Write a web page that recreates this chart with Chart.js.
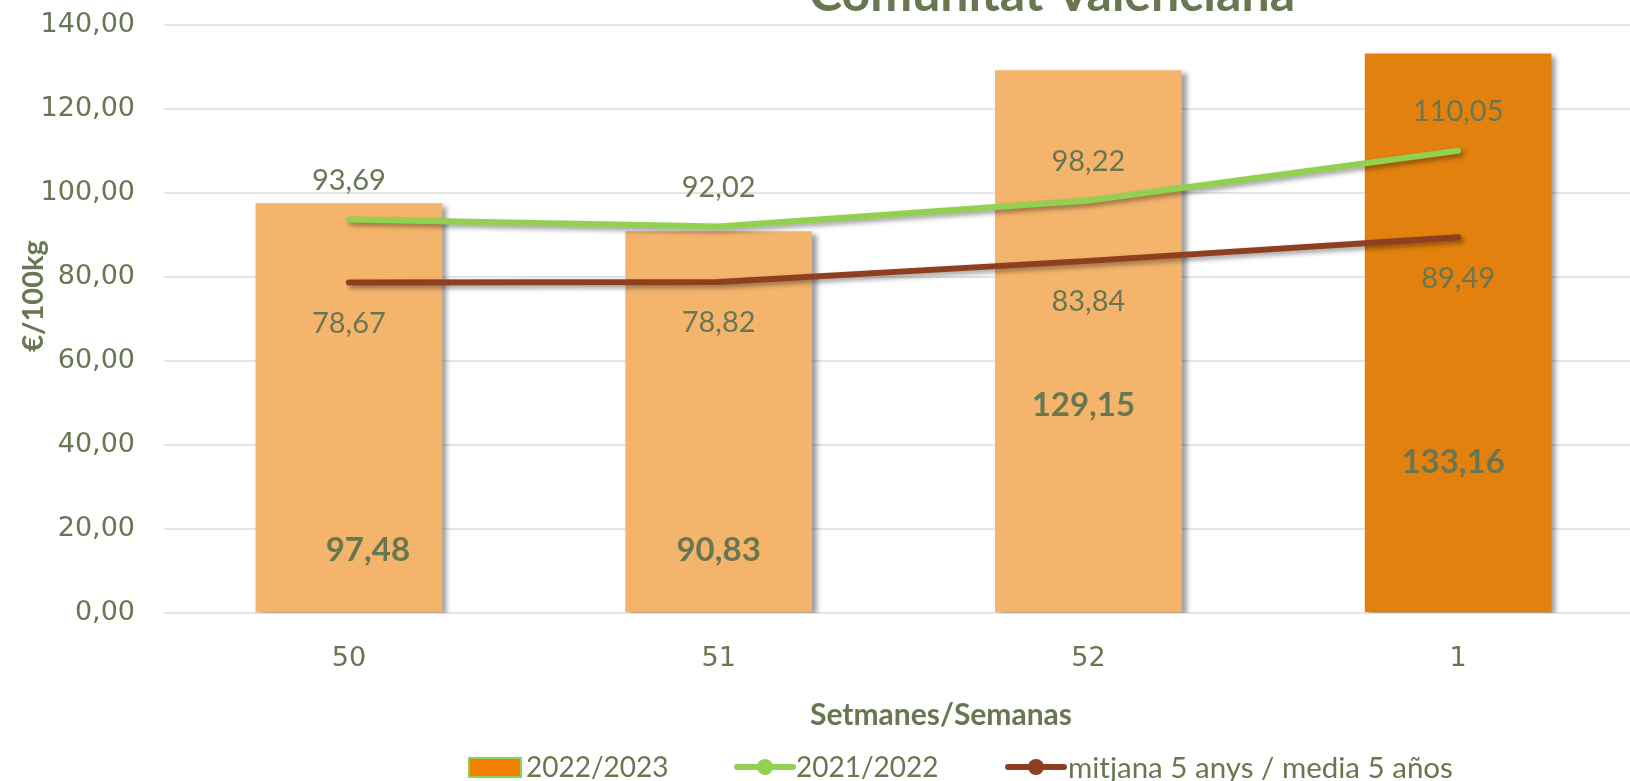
<!DOCTYPE html>
<html>
<head>
<meta charset="utf-8">
<script src="https://cdn.jsdelivr.net/npm/chart.js@4.4.1/dist/chart.umd.min.js"></script>
<style>
  html, body { margin: 0; padding: 0; background: #fff; overflow: hidden; }
  #wrap { width: 1630px; height: 781px; overflow: hidden; position: relative; }
  canvas { display: block; }
</style>
</head>
<body>
<div id="wrap"><canvas id="chart" width="1645" height="781"></canvas></div>
<script>
// --- datos ---
const weeks = ['50', '51', '52', '1'];
const season2223 = [97.48, 90.83, 129.15, 133.16];
const season2122 = [93.69, 92.02, 98.22, 110.05];
const media5 = [78.67, 78.82, 83.84, 89.49];
const yMin = 0, yMax = 140, yStep = 20;

const seriesNames = ['2022/2023', '2021/2022', 'mitjana 5 anys / media 5 años'];

// --- colores ---
const TXT = '#687751';
const BAR_LIGHT = '#F4B46C';
const BAR_DARK = '#E3810F';
const GREEN = '#92D050';
const BROWN = '#8E3F20';

const fmt = v => v.toFixed(2).replace('.', ',');

// sombra de las series (como en Excel)
const shadowPlugin = {
  id: 'shadow',
  beforeDatasetDraw(chart, args) {
    const ctx = chart.ctx;
    ctx.save();
    ctx.shadowColor = 'rgba(0,0,0,0.38)';
    ctx.shadowBlur = 5;
    ctx.shadowOffsetX = args.meta.type === 'bar' ? 5 : 3;
    ctx.shadowOffsetY = 3;
  },
  afterDatasetDraw(chart) { chart.ctx.restore(); }
};

// etiquetas de valores, titulo y leyenda
const labelsPlugin = {
  id: 'valueLabels',
  afterDatasetsDraw(chart) {
    const ctx = chart.ctx;
    const y = chart.scales.y;
    ctx.save();
    ctx.fillStyle = TXT;
    ctx.textAlign = 'center';
    ctx.textBaseline = 'middle';

    // 2021/2022 encima, media debajo
    ctx.font = '29px Lato';
    chart.getDatasetMeta(1).data.forEach((p, i) => ctx.fillText(fmt(season2122[i]), p.x, p.y - 39));
    chart.getDatasetMeta(2).data.forEach((p, i) => ctx.fillText(fmt(media5[i]), p.x, p.y + 41));

    // etiquetas de barras (colocadas a mano en el original)
    const spots = [[19, 14.8], [0, 14.8], [-5, 49.4], [-5, 35.8]];
    ctx.font = 'bold 33px Lato';
    chart.getDatasetMeta(0).data.forEach((b, i) => {
      ctx.fillText(fmt(season2223[i]), b.x + spots[i][0], y.getPixelForValue(spots[i][1]));
    });
    ctx.restore();
  },
  afterDraw(chart) {
    const ctx = chart.ctx;
    ctx.save();
    ctx.fillStyle = TXT;
    ctx.textAlign = 'center';

    // titulo (cortado arriba)
    ctx.font = 'bold 50px Lato';
    ctx.textBaseline = 'alphabetic';
    ctx.fillText('Comunitat Valenciana', 1052, 11);

    // titulos de ejes
    ctx.textBaseline = 'middle';
    ctx.font = 'bold 30px Lato';
    ctx.fillText('Setmanes/Semanas', 941, 715);
    ctx.save();
    ctx.translate(34, 296);
    ctx.rotate(-Math.PI / 2);
    ctx.font = 'bold 29px Lato';
    ctx.fillText('€/100kg', 0, 0);
    ctx.restore();

    // leyenda
    ctx.textAlign = 'left';
    const ly = 767;
    ctx.fillStyle = '#F08000';
    ctx.fillRect(469, 758, 52, 19);
    ctx.strokeStyle = GREEN;
    ctx.lineWidth = 2;
    ctx.strokeRect(469, 758, 52, 19);
    ctx.font = '28px Lato';
    ctx.fillStyle = TXT;
    ctx.fillText(seriesNames[0], 526, ly + 1);

    const lineKey = (x0, col) => {
      ctx.strokeStyle = col;
      ctx.lineWidth = 6;
      ctx.lineCap = 'round';
      ctx.beginPath(); ctx.moveTo(x0, ly); ctx.lineTo(x0 + 56, ly); ctx.stroke();
      ctx.fillStyle = col;
      ctx.beginPath(); ctx.arc(x0 + 28, ly, 8, 0, Math.PI * 2); ctx.fill();
    };
    lineKey(737, GREEN);
    ctx.fillStyle = TXT;
    ctx.fillText(seriesNames[1], 796, ly + 1);
    lineKey(1008, BROWN);
    ctx.fillStyle = TXT;
    ctx.font = '29.5px Lato';
    ctx.fillText(seriesNames[2], 1068, ly + 1);
    ctx.restore();
  }
};

new Chart(document.getElementById('chart'), {
  data: {
    labels: weeks,
    datasets: [
      {
        type: 'bar',
        label: seriesNames[0],
        data: season2223,
        backgroundColor: season2223.map((v, i) => i === season2223.length - 1 ? BAR_DARK : BAR_LIGHT),
        barThickness: 186,
        order: 2
      },
      {
        type: 'line',
        label: seriesNames[1],
        data: season2122,
        borderColor: GREEN,
        borderWidth: 6,
        pointRadius: 0,
        borderCapStyle: 'round',
        borderJoinStyle: 'round',
        order: 1
      },
      {
        type: 'line',
        label: seriesNames[2],
        data: media5,
        borderColor: BROWN,
        borderWidth: 6,
        pointRadius: 0,
        borderCapStyle: 'round',
        borderJoinStyle: 'round',
        order: 0
      }
    ]
  },
  options: {
    responsive: false,
    animation: false,
    devicePixelRatio: 1,
    layout: { padding: { top: 25, right: 2, left: 0, bottom: 0 } },
    plugins: { legend: { display: false }, tooltip: { enabled: false }, title: { display: false } },
    scales: {
      x: {
        type: 'category',
        offset: true,
        grid: { display: false },
        border: { display: false },
        ticks: { color: TXT, font: { family: 'DejaVu Sans', size: 27 }, padding: 22 },
        afterFit(s) { s.height = 168; s.paddingLeft = 0; s.paddingRight = 0; }
      },
      y: {
        min: yMin,
        max: yMax,
        grid: { color: '#E6E6DF', lineWidth: 2, drawTicks: false },
        border: { display: false },
        ticks: {
          stepSize: yStep,
          color: TXT,
          font: { family: 'DejaVu Sans', size: 27 },
          padding: 29,
          callback: v => fmt(v)
        },
        afterFit(s) { s.width = 164; s.paddingTop = 0; s.paddingBottom = 0; }
      }
    }
  },
  plugins: [shadowPlugin, labelsPlugin]
});
</script>
</body>
</html>
